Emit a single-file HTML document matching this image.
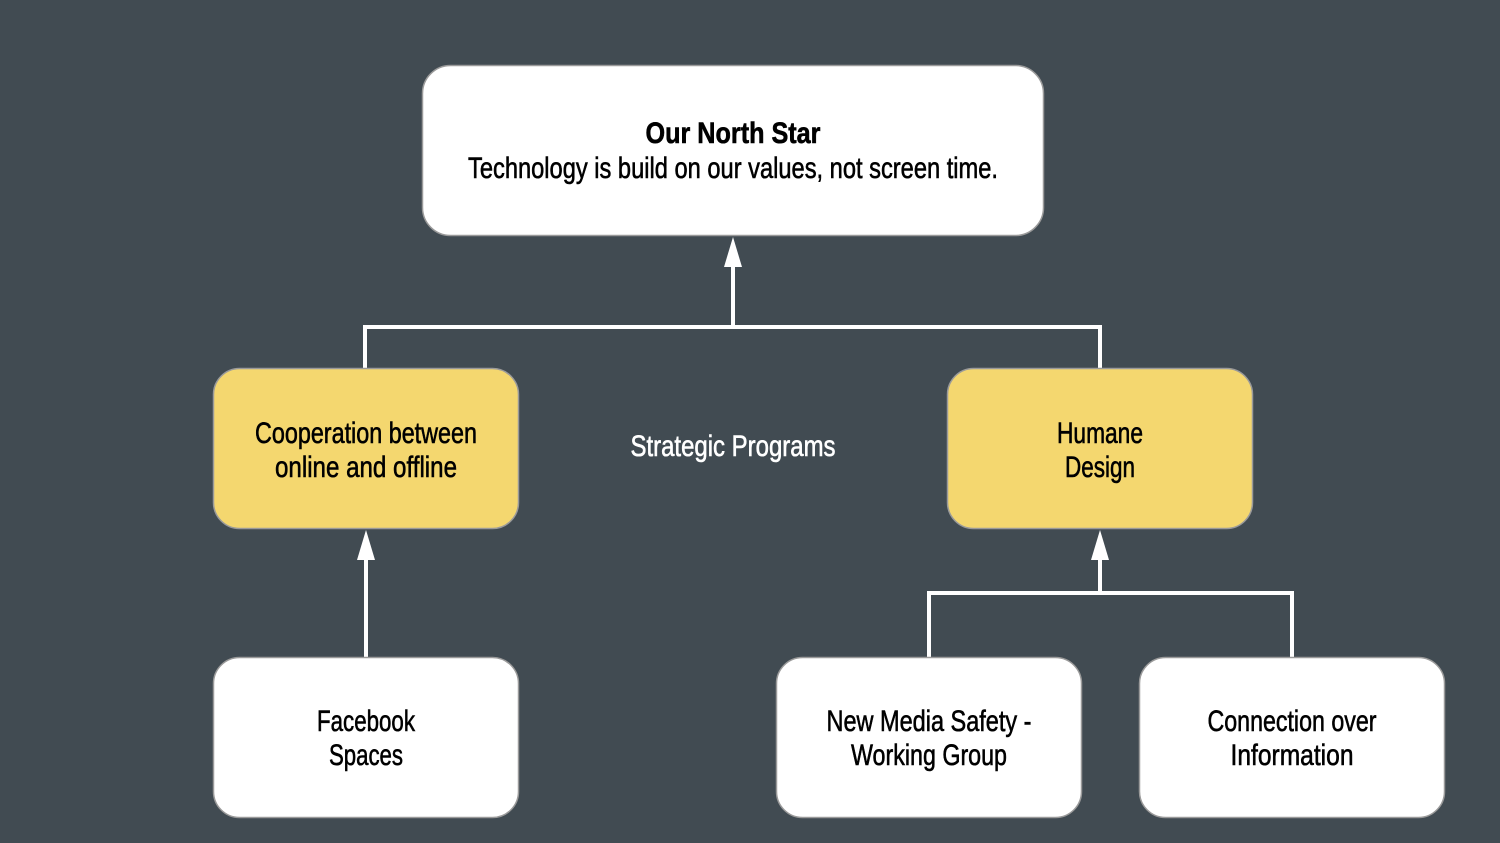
<!DOCTYPE html>
<html><head><meta charset="utf-8"><style>
html,body{margin:0;padding:0;background:#414b52;}
svg{display:block}
text{font-family:"Liberation Sans Narrow","Liberation Sans",sans-serif;font-size:30px;fill:#000;stroke:#000;stroke-width:0.6;text-anchor:middle}
</style></head><body>
<svg width="1500" height="843" viewBox="0 0 1500 843">
<rect width="1500" height="843" fill="#414b52"/>
<g stroke="#fff" stroke-width="4" fill="none">
<path d="M733 265 V327 M365 368 V327 H1100 V368"/>
<path d="M366 556 V657"/>
<path d="M1100 556 V593 M929 657 V593 H1292 V657"/>
</g>
<g fill="#fff">
<polygon points="733,237 724,267 742,267"/>
<polygon points="366,530 357,560 375,560"/>
<polygon points="1100,530 1091,560 1109,560"/>
</g>
<g stroke="#9a9a9a" stroke-width="1.5">
<rect x="422.5" y="65.5" width="621" height="170" rx="28" fill="#fff"/>
<rect x="213.5" y="368.5" width="305" height="160" rx="26" fill="#f4d76f"/>
<rect x="947.5" y="368.5" width="305" height="160" rx="26" fill="#f4d76f"/>
<rect x="213.5" y="657.5" width="305" height="160" rx="26" fill="#fff"/>
<rect x="776.5" y="657.5" width="305" height="160" rx="26" fill="#fff"/>
<rect x="1139.5" y="657.5" width="305" height="160" rx="26" fill="#fff"/>
</g>
<text x="733" y="143" font-weight="bold" textLength="175" lengthAdjust="spacingAndGlyphs">Our North Star</text>
<text x="733" y="178" textLength="530" lengthAdjust="spacingAndGlyphs">Technology is build on our values, not screen time.</text>
<text x="366" y="443" textLength="222" lengthAdjust="spacingAndGlyphs">Cooperation between</text>
<text x="366" y="477" textLength="182" lengthAdjust="spacingAndGlyphs">online and offline</text>
<text x="733" y="456" style="fill:#fff;stroke:#fff" textLength="205" lengthAdjust="spacingAndGlyphs">Strategic Programs</text>
<text x="1100" y="443" textLength="86" lengthAdjust="spacingAndGlyphs">Humane</text>
<text x="1100" y="477" textLength="70" lengthAdjust="spacingAndGlyphs">Design</text>
<text x="366" y="731" textLength="98" lengthAdjust="spacingAndGlyphs">Facebook</text>
<text x="366" y="765" textLength="74" lengthAdjust="spacingAndGlyphs">Spaces</text>
<text x="929" y="731" textLength="205" lengthAdjust="spacingAndGlyphs">New Media Safety -</text>
<text x="929" y="765" textLength="156" lengthAdjust="spacingAndGlyphs">Working Group</text>
<text x="1292" y="731" textLength="169" lengthAdjust="spacingAndGlyphs">Connection over</text>
<text x="1292" y="765" textLength="123" lengthAdjust="spacingAndGlyphs">Information</text>
</svg>
</body></html>
